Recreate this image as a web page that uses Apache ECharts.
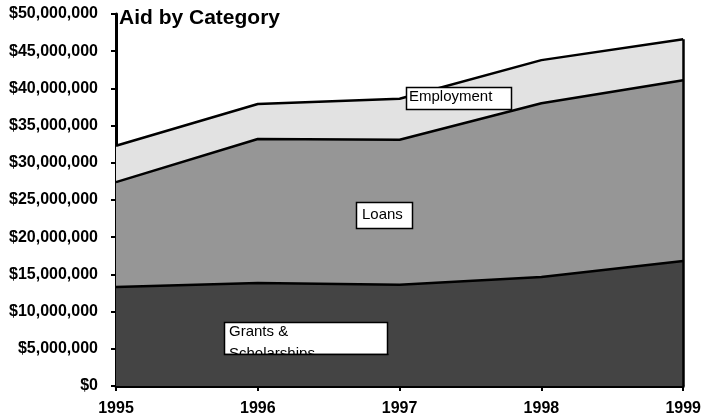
<!DOCTYPE html>
<html>
<head>
<meta charset="utf-8">
<script src="https://cdn.jsdelivr.net/npm/echarts@6/dist/echarts.min.js"></script>
<style>
  html, body { margin: 0; padding: 0; background: #fff; }
  #chart { width: 704px; height: 420px; }
</style>
</head>
<body>
<div id="chart"></div>
<script>
// aid amounts per year
const years = ['1995', '1996', '1997', '1998', '1999']
const grants = [13300000, 13850000, 13600000, 14650000, 16800000]
const loans = [14100000, 19350000, 19500000, 23350000, 24300000]
const employment = [4900000, 4700000, 5500000, 5800000, 5500000]

const FONT = '"Liberation Sans", Arial, sans-serif'
const chart = echarts.init(document.getElementById('chart'))

const lastIdx = years.length - 1
const total = grants[lastIdx] + loans[lastIdx] + employment[lastIdx]

function money(v) { return '$' + v.toLocaleString('en-US') }

function areaSeries(name, data, color) {
  return {
    name, type: 'line', stack: 'aid', data,
    symbol: 'none', smooth: false,
    lineStyle: { color: '#000', width: 2.5 },
    areaStyle: { color, opacity: 1 },
    emphasis: { disabled: true }
  }
}

const series = [
  areaSeries('Grants & Scholarships', grants, '#444444'),
  areaSeries('Loans', loans, '#969696'),
  areaSeries('Employment', employment, '#e2e2e2')
]
// right-hand edge of the stacked area
series[2].markLine = {
  silent: true, symbol: 'none', label: { show: false },
  lineStyle: { color: '#000', width: 2.5, type: 'solid' },
  data: [[{ coord: [years[lastIdx], 0] }, { coord: [years[lastIdx], total] }]]
}

function box(x, y, w, h, z) {
  return { type: 'rect', z, shape: { x, y, width: w, height: h },
    style: { fill: '#fff', stroke: '#000', lineWidth: 1.5 } }
}
function txt(x, y, s, z) {
  return { type: 'text', z, x, y,
    style: { text: s, fill: '#000', font: '15px ' + FONT, textVerticalAlign: 'top' } }
}

chart.setOption({
  animation: false,
  title: {
    text: 'Aid by Category', left: 114, top: 3,
    textStyle: { fontFamily: FONT, fontSize: 21, fontWeight: 'bold', color: '#000' }
  },
  grid: { left: 116, right: 20, top: 14, bottom: 34, containLabel: false },
  xAxis: {
    type: 'category', data: years, boundaryGap: false,
    axisLine: { lineStyle: { color: '#000', width: 3 } },
    axisTick: { show: true, length: 5, lineStyle: { color: '#000', width: 2 } },
    axisLabel: { color: '#000', fontFamily: FONT, fontSize: 16, fontWeight: 'bold', margin: 15 },
    splitLine: { show: false }
  },
  yAxis: {
    type: 'value', min: 0, max: 50000000, interval: 5000000,
    axisLine: { show: true, lineStyle: { color: '#000', width: 3 } },
    axisTick: { show: true, length: 5, lineStyle: { color: '#000', width: 2 } },
    axisLabel: { color: '#000', fontFamily: FONT, fontSize: 16, fontWeight: 'bold', margin: 18, formatter: money },
    splitLine: { show: false }
  },
  series,
  graphic: [
    box(406.5, 87.5, 105, 22, 100),
    txt(409, 89, 'Employment', 101),
    box(356.5, 202.5, 56, 26, 100),
    txt(362, 207, 'Loans', 101),
    box(224.5, 322.5, 163, 32, 100),
    txt(229, 324, 'Grants &', 101),
    txt(229, 346, 'Scholarships', 101),
    { type: 'rect', z: 102, shape: { x: 224, y: 355, width: 165, height: 14 }, style: { fill: '#444444' } },
    { type: 'line', z: 103, shape: { x1: 224, y1: 354.5, x2: 388.5, y2: 354.5 }, style: { stroke: '#000', lineWidth: 1.5 } }
  ]
})
</script>
</body>
</html>
